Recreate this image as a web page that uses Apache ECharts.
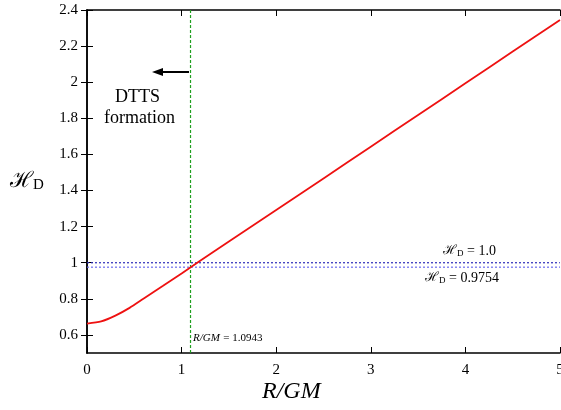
<!DOCTYPE html>
<html>
<head>
<meta charset="utf-8">
<script src="https://cdn.jsdelivr.net/npm/echarts@6/dist/echarts.min.js"></script>
<style>
  html, body { margin: 0; padding: 0; background: #fff; }
  #chart { width: 561px; height: 410px; }
</style>
</head>
<body>
<div id="chart"></div>
<script>
// values
const rValues = [0, 0.15, 0.3, 0.45, 0.6, 0.8, 1.0, 1.2, 1.5, 2.0, 2.5, 3.0, 3.5, 4.0, 4.5, 5.0]
const hValues = [0.663, 0.675, 0.707, 0.750, 0.802, 0.871, 0.941, 1.012, 1.118, 1.292, 1.467, 1.643, 1.818, 1.994, 2.170, 2.345]
const hLevels = [1.0, 0.9754]
const rCross = 1.0943
const yTicks = [0.6, 0.8, 1, 1.2, 1.4, 1.6, 1.8, 2, 2.2, 2.4]

const serif = "'Liberation Serif', 'Times New Roman', 'DejaVu Serif', serif"

const chart = echarts.init(document.getElementById('chart'), null, { renderer: 'canvas' })

const axisLine = { show: true, lineStyle: { color: '#000', width: 1.5 } }
const tick = { show: true, inside: true, length: 6, lineStyle: { color: '#000', width: 1 } }

const hRich = {
  h: { fontFamily: "'DejaVu Serif', serif", fontSize: 13, color: '#222' },
  d: { fontFamily: serif, fontSize: 9, color: '#222', padding: [6, 0, 0, 0] },
  t: { fontFamily: serif, fontSize: 14, color: '#222' }
}

chart.setOption({
  animation: false,
  backgroundColor: '#fff',
  grid: { left: 87, right: 1, top: 10, bottom: 57, outerBoundsMode: 'none' },
  xAxis: [
    {
      type: 'value', min: 0, max: 5, interval: 1,
      axisLine: axisLine, axisTick: tick, splitLine: { show: false },
      axisLabel: { fontFamily: serif, fontSize: 15, color: '#000', margin: 10 }
    },
    {
      type: 'value', position: 'top', min: 0, max: 5, interval: 1,
      axisLine: axisLine, axisTick: tick, splitLine: { show: false },
      axisLabel: { show: false }
    }
  ],
  yAxis: [
    {
      type: 'value', min: 0.5, max: 2.4, interval: 0.1,
      axisLine: axisLine,
      axisTick: Object.assign({ customValues: yTicks }, tick),
      splitLine: { show: false },
      axisLabel: { customValues: yTicks, fontFamily: serif, fontSize: 15, color: '#000', margin: 9 }
    },
    {
      type: 'value', position: 'right', min: 0.5, max: 2.4, interval: 0.1,
      axisLine: axisLine,
      axisTick: Object.assign({ customValues: yTicks }, tick),
      splitLine: { show: false },
      axisLabel: { show: false }
    }
  ],
  series: [
    {
      type: 'line',
      data: [[0, hLevels[0]], [5, hLevels[0]]],
      symbol: 'none',
      lineStyle: { color: '#2b2bb8', width: 1.2, type: [2, 2] },
      z: 2
    },
    {
      type: 'line',
      data: [[0, hLevels[1]], [5, hLevels[1]]],
      symbol: 'none',
      lineStyle: { color: '#6a6aee', width: 1.2, type: [2, 2] },
      z: 2
    },
    {
      type: 'line',
      data: [[rCross, 0.5], [rCross, 2.4]],
      symbol: 'none',
      lineStyle: { color: '#1fa01f', width: 1.2, type: [3, 2] },
      z: 2
    },
    {
      type: 'line',
      data: rValues.map((r, i) => [r, hValues[i]]),
      smooth: 0.25,
      symbol: 'none',
      lineStyle: { color: '#ee1111', width: 1.8 },
      z: 3
    }
  ],
  graphic: [
    {
      type: 'text', left: 10, top: 170,
      style: {
        text: '{h|ℋ}{d|D}',
        rich: {
          h: { fontFamily: "'DejaVu Serif', serif", fontSize: 22, color: '#000' },
          d: { fontFamily: serif, fontSize: 15, color: '#000', padding: [9, 0, 0, 0] }
        }
      }
    },
    {
      type: 'text', left: 262, top: 380,
      style: { text: 'R/GM', fontFamily: serif, fontSize: 24, fontStyle: 'italic', fill: '#000' }
    },
    {
      type: 'text', left: 193, top: 332,
      style: {
        text: '{i|R/GM} {t|= 1.0943}',
        rich: {
          i: { fontFamily: serif, fontSize: 11, fontStyle: 'italic', color: '#333' },
          t: { fontFamily: serif, fontSize: 11, color: '#333' }
        }
      }
    },
    {
      type: 'text', left: 443, top: 244,
      style: { text: '{h|ℋ}{d|D}{t| = 1.0}', rich: hRich }
    },
    {
      type: 'text', left: 425, top: 271,
      style: { text: '{h|ℋ}{d|D}{t| = 0.9754}', rich: hRich }
    },
    {
      type: 'text', left: 115, top: 88,
      style: { text: 'DTTS', fontFamily: serif, fontSize: 18, fill: '#000' }
    },
    {
      type: 'text', left: 104, top: 109,
      style: { text: 'formation', fontFamily: serif, fontSize: 18, fill: '#000' }
    },
    {
      type: 'line',
      shape: { x1: 189, y1: 72, x2: 160, y2: 72 },
      style: { stroke: '#000', lineWidth: 2 }
    },
    {
      type: 'polygon',
      shape: { points: [[152, 72], [163, 68], [163, 76]] },
      style: { fill: '#000' }
    }
  ]
})
</script>
</body>
</html>
